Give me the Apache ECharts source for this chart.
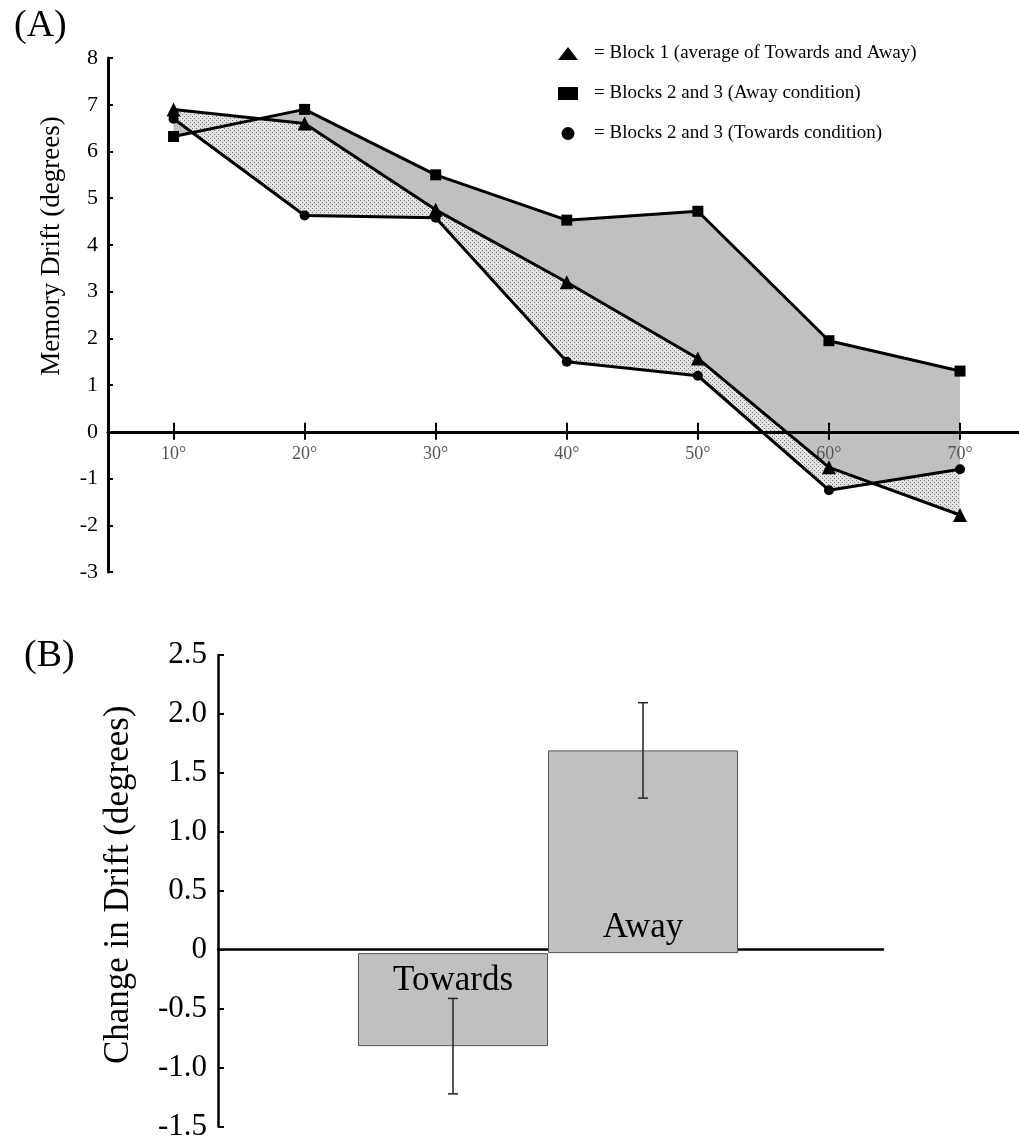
<!DOCTYPE html>
<html>
<head>
<meta charset="utf-8">
<script src="https://cdn.jsdelivr.net/npm/echarts@6/dist/echarts.min.js"></script>
<style>
  html, body { margin: 0; padding: 0; background: #fff; }
  #chart { width: 1019px; height: 1142px; }
</style>
</head>
<body>
<div id="chart"></div>
<script>
// panel A: memory drift per angle
var angles = [10, 20, 30, 40, 50, 60, 70];
var block1 = [6.9, 6.6, 4.75, 3.2, 1.57, -0.76, -1.78];
var away = [6.32, 6.9, 5.5, 4.53, 4.72, 1.95, 1.3];
var towards = [6.7, 4.63, 4.58, 1.5, 1.2, -1.25, -0.8];

// panel B: change in drift
var conditions = ['Towards', 'Away'];
var change = [-0.78, 1.7];
var changeErr = [0.4, 0.4];

var serif = 'Liberation Serif, Times New Roman, serif';

// stipple pattern for the towards band
var dot = document.createElement('canvas');
dot.width = 4; dot.height = 4;
var dctx = dot.getContext('2d');
dctx.fillStyle = '#e2e2e2';
dctx.fillRect(0, 0, 4, 4);
dctx.fillStyle = '#777777';
dctx.fillRect(0, 0, 1, 1);
dctx.fillRect(2, 2, 1, 1);

//fill between two lines, drawn once as one polygon
function band(upper, lower, fill) {
    return function (params, api) {
        if (params.dataIndex !== 0) return null;
        var pts = [];
        for (var i = 0; i < angles.length; i++) pts.push(api.coord([angles[i], upper[i]]));
        for (var j = angles.length - 1; j >= 0; j--) pts.push(api.coord([angles[j], lower[j]]));
        return { type: 'polygon', silent: true, shape: { points: pts }, style: { fill: fill } };
    };
}

function lineSeries(name, data, symbol, size) {
    return {
        name: name, type: 'line', xAxisIndex: 0, yAxisIndex: 0, z: 5,
        data: angles.map(function (a, i) { return [a, data[i]]; }),
        symbol: symbol, symbolSize: size,
        lineStyle: { color: '#000', width: 3 },
        itemStyle: { color: '#000' }
    };
}

var names = [
    'Block 1 (average of Towards and Away)',
    'Blocks 2 and 3 (Away condition)',
    'Blocks 2 and 3 (Towards condition)'
];

var chart = echarts.init(document.getElementById('chart'));
chart.setOption({
    backgroundColor: '#fff',
    animation: false,
    title: [
        { text: '(A)', left: 9, top: 2, textStyle: { fontFamily: serif, fontSize: 38, fontWeight: 'normal', color: '#000' } },
        { text: '(B)', left: 19, top: 632, textStyle: { fontFamily: serif, fontSize: 38, fontWeight: 'normal', color: '#000' } }
    ],
    legend: {
        orient: 'vertical', left: 553, top: 39,
        itemWidth: 20, itemHeight: 13, itemGap: 21,
        data: [
            { name: names[0], icon: 'triangle' },
            { name: names[1], icon: 'rect' },
            { name: names[2], icon: 'circle' }
        ],
        formatter: '= {name}',
        textStyle: { fontFamily: serif, fontSize: 19, color: '#000', padding: [0, 0, 0, 11] }
    },
    grid: [
        { left: 108, top: 58, width: 911, height: 514 },
        { left: 218, top: 655, width: 665, height: 477 },
        { left: 358, top: 655, width: 380, height: 477 }
    ],
    xAxis: [
        {
            gridIndex: 0, type: 'value', min: 5, max: 74.5, z: 3,
            axisLine: { onZero: true, lineStyle: { color: '#000', width: 3 } },
            axisTick: { customValues: angles, length: 8, lineStyle: { color: '#000', width: 2 } },
            // labels sit just under the zero line, not at the grid bottom
            axisLabel: { customValues: angles, formatter: '{value}°', fontFamily: serif, fontSize: 18, color: '#555', margin: -127 },
            splitLine: { show: false }
        },
        {
            gridIndex: 0, type: 'value', min: 5, max: 74.5, position: 'top', z: 3,
            axisLine: { show: true, onZero: true, onZeroAxisIndex: 1, lineStyle: { opacity: 0 } },
            axisTick: { customValues: angles, length: 9, lineStyle: { color: '#000', width: 2 } },
            axisLabel: { show: false },
            splitLine: { show: false }
        },
        {
            gridIndex: 1, type: 'value', min: 0, max: 1,
            axisLine: { onZero: true, lineStyle: { color: '#000', width: 2.5 } },
            axisTick: { show: false }, axisLabel: { show: false }, splitLine: { show: false }
        },
        {
            gridIndex: 2, type: 'category', data: conditions, show: false
        }
    ],
    yAxis: [
        {
            gridIndex: 0, type: 'value', min: -3, max: 8, interval: 1,
            name: 'Memory Drift (degrees)', nameLocation: 'middle', nameGap: 43,
            nameTextStyle: { fontFamily: serif, fontSize: 27, color: '#000', padding: [0, 0, 0, 138] },
            axisLine: { show: true, onZero: false, lineStyle: { color: '#000', width: 3 } },
            axisTick: { inside: true, length: 5, lineStyle: { color: '#000', width: 2 } },
            axisLabel: { fontFamily: serif, fontSize: 22, color: '#000', margin: 10 },
            splitLine: { show: false }
        },
        {
            gridIndex: 0, type: 'value', min: -3, max: 8, position: 'right',
            axisLine: { show: false }, axisTick: { show: false }, axisLabel: { show: false }, splitLine: { show: false }
        },
        {
            gridIndex: 1, type: 'value', min: -1.5, max: 2.5, interval: 0.5,
            name: 'Change in Drift (degrees)', nameLocation: 'middle', nameGap: 82,
            nameTextStyle: { fontFamily: serif, fontSize: 35, color: '#000', padding: [0, 0, 0, 12] },
            axisLine: { show: true, onZero: false, lineStyle: { color: '#000', width: 2.5 } },
            axisTick: { inside: true, length: 6, lineStyle: { color: '#000', width: 2 } },
            axisLabel: {
                fontFamily: serif, fontSize: 31, color: '#000', margin: 11,
                formatter: function (v) { return v === 0 ? '0' : v.toFixed(1); }
            },
            splitLine: { show: false }
        },
        {
            gridIndex: 2, type: 'value', min: -1.5, max: 2.5, show: false
        }
    ],
    series: [
        {
            type: 'custom', xAxisIndex: 0, yAxisIndex: 0, z: 1, silent: true,
            data: angles.map(function (a, i) { return [a, away[i]]; }),
            renderItem: band(away, block1, '#c0c0c0')
        },
        {
            type: 'custom', xAxisIndex: 0, yAxisIndex: 0, z: 2, silent: true,
            data: angles.map(function (a, i) { return [a, block1[i]]; }),
            renderItem: band(block1, towards, { image: dot, repeat: 'repeat' })
        },
        lineSeries(names[0], block1, 'triangle', 14),
        lineSeries(names[1], away, 'rect', 11),
        lineSeries(names[2], towards, 'circle', 10),
        {
            type: 'bar', xAxisIndex: 3, yAxisIndex: 3, barWidth: '100%',
            data: change.map(function (v) {
                return {
                    value: v,
                    label: { position: v < 0 ? 'insideTop' : 'insideBottom', distance: v < 0 ? 10 : 8 }
                };
            }),
            itemStyle: { color: '#c0c0c0', borderColor: '#555', borderWidth: 1 },
            label: { show: true, formatter: '{b}', fontFamily: serif, fontSize: 35, color: '#000' }
        },
        {
            type: 'custom', xAxisIndex: 3, yAxisIndex: 3, z: 4, silent: true,
            data: change.map(function (v, i) { return [i, v - changeErr[i], v + changeErr[i]]; }),
            renderItem: function (params, api) {
                var lo = api.coord([api.value(0), api.value(1)]);
                var hi = api.coord([api.value(0), api.value(2)]);
                var st = { stroke: '#222', lineWidth: 1.5 };
                return {
                    type: 'group', children: [
                        { type: 'line', shape: { x1: lo[0], y1: lo[1], x2: hi[0], y2: hi[1] }, style: st },
                        { type: 'line', shape: { x1: lo[0] - 5, y1: lo[1], x2: lo[0] + 5, y2: lo[1] }, style: st },
                        { type: 'line', shape: { x1: hi[0] - 5, y1: hi[1], x2: hi[0] + 5, y2: hi[1] }, style: st }
                    ]
                };
            }
        }
    ]
});
</script>
</body>
</html>
